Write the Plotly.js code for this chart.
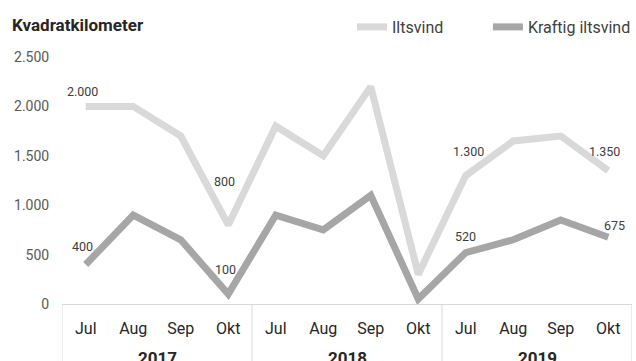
<!DOCTYPE html>
<html>
<head>
<meta charset="utf-8">
<script src="https://cdn.plot.ly/plotly-3.0.1.min.js"></script>
<style>html,body{margin:0;padding:0;background:#fff;}#chart{width:636px;height:361px;}</style>
</head>
<body>
<div id="chart"></div>
<script>
// Data
const years = ['2017','2017','2017','2017','2018','2018','2018','2018','2019','2019','2019','2019'];
const months = ['Jul','Aug','Sep','Okt','Jul','Aug','Sep','Okt','Jul','Aug','Sep','Okt'];
const seriesNames = ['Iltsvind', 'Kraftig iltsvind'];
const iltsvind = [2000, 2000, 1700, 800, 1800, 1500, 2200, 300, 1300, 1650, 1700, 1350];
const kraftig = [400, 900, 650, 100, 900, 750, 1100, 50, 520, 650, 850, 675];
const iltsvindLabels = ['2.000','','','800','','','','','1.300','','','1.350'];
const kraftigLabels = ['400','','','100','','','','','520','','','675'];
// label offsets (px) for readability
const iltsvindShift = [[-3,15],[0,0],[0,0],[-4,43],[0,0],[0,0],[0,0],[0,0],[3,24],[0,0],[0,0],[-4,19]];
const kraftigShift = [[-3,18],[0,0],[0,0],[-3,25],[0,0],[0,0],[0,0],[0,0],[0,16],[0,0],[0,0],[6,12]];

const idx = months.map((m, i) => i);
const FONT = 'Roboto, sans-serif';
const PAD = '\u00a0'.repeat(10); // spacing between legend entries

const traces = [
  {x: idx, y: iltsvind, name: seriesNames[0] + PAD, type: 'scatter', mode: 'lines',
   line: {color: '#d9d9d9', width: 7}, hoverinfo: 'skip'},
  {x: idx, y: kraftig, name: seriesNames[1], type: 'scatter', mode: 'lines',
   line: {color: '#a6a6a6', width: 7}, hoverinfo: 'skip'}
];

const annotations = [];
function addLabels(vals, labels, shifts) {
  vals.forEach((v, i) => {
    if (!labels[i]) return;
    annotations.push({x: i, y: v, xref: 'x', yref: 'y', text: labels[i], showarrow: false,
      xshift: shifts[i][0], yshift: shifts[i][1],
      font: {family: FONT, size: 12.5, color: '#404040'}});
  });
}
addLabels(iltsvind, iltsvindLabels, iltsvindShift);
addLabels(kraftig, kraftigLabels, kraftigShift);

// group (year) labels and divider lines of the two-level category axis
const shapes = [];
const plotH = 361 - 57 - 57;
const groups = [];
years.forEach((y, i) => {
  if (!groups.length || groups[groups.length - 1].year !== y) groups.push({year: y, first: i, last: i});
  else groups[groups.length - 1].last = i;
});
groups.forEach((g, k) => {
  annotations.push({x: (g.first + g.last) / 2, xref: 'x', y: 0, yref: 'paper', yanchor: 'middle',
    yshift: -53.5, text: '<b>' + g.year + '</b>', showarrow: false,
    font: {family: FONT, size: 17, color: '#262626'}});
  const bounds = k === 0 ? [g.first - 0.5, g.last + 0.5] : [g.last + 0.5];
  bounds.forEach(b => shapes.push({type: 'line', xref: 'x', yref: 'paper', x0: b, x1: b,
    y0: 0, y1: -60 / plotH, line: {color: '#d9d9d9', width: 1}}));
});

const layout = {
  width: 636, height: 361,
  margin: {l: 62, r: 4, t: 57, b: 57, pad: 0},
  paper_bgcolor: '#ffffff', plot_bgcolor: '#ffffff',
  separators: ',.',
  font: {family: FONT, size: 14, color: '#404040'},
  title: {text: '<b>Kvadratkilometer</b>', x: 12/636, xanchor: 'left', xref: 'container',
          y: 1 - 25/361, yref: 'container', yanchor: 'middle',
          font: {family: FONT, size: 17, color: '#262626'}},
  showlegend: true,
  legend: {orientation: 'h', xref: 'container', yref: 'container', x: 1, xanchor: 'right',
           y: 1 - 10/361, yanchor: 'top', font: {family: FONT, size: 16, color: '#404040'},
           bgcolor: 'rgba(0,0,0,0)', itemwidth: 30},
  xaxis: {range: [-0.5, 11.5], tickvals: idx, ticktext: months, showline: true,
          linecolor: '#d9d9d9', linewidth: 1, ticks: '', ticklabelstandoff: 10,
          showgrid: false, zeroline: false,
          tickfont: {family: FONT, size: 16, color: '#262626'}},
  yaxis: {range: [0, 2500], dtick: 500, tick0: 0, showgrid: false, zeroline: false, showline: false,
          separatethousands: true, ticks: 'outside', ticklen: 9, tickcolor: 'rgba(0,0,0,0)',
          tickfont: {family: FONT, size: 14, color: '#595959'}},
  shapes: shapes,
  annotations: annotations
};

Plotly.newPlot('chart', traces, layout, {staticPlot: true, displayModeBar: false});
</script>
</body>
</html>
